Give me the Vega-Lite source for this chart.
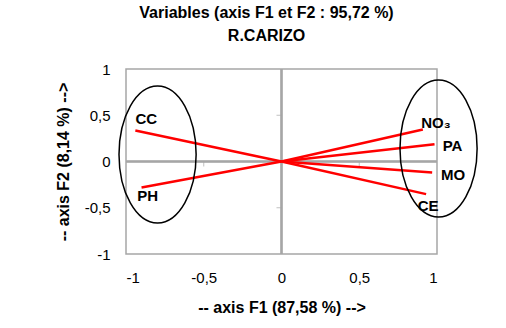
{
  "$schema": "https://vega.github.io/schema/vega-lite/v6.json",
  "width": 311,
  "height": 185,
  "autosize": {"type": "none"},
  "padding": {"left": 126, "top": 69, "right": 69, "bottom": 74},
  "background": "white",
  "title": {
    "text": ["Variables (axis F1 et F2 : 95,72 %)", "R.CARIZO"],
    "anchor": "middle",
    "frame": "group",
    "dx": -15,
    "offset": 18,
    "lineHeight": 23,
    "font": "Liberation Sans",
    "fontSize": 16,
    "fontWeight": "bold",
    "color": "black"
  },
  "datasets": {
    "vars": [
      {"var": "CC", "f1": -0.94, "f2": 0.335},
      {"var": "PH", "f1": -0.9, "f2": -0.28},
      {"var": "NO₃", "f1": 0.909, "f2": 0.346},
      {"var": "PA", "f1": 0.984, "f2": 0.187},
      {"var": "MO", "f1": 0.969, "f2": -0.119},
      {"var": "CE", "f1": 0.93, "f2": -0.353}
    ],
    "groups": [
      {"group": "left", "f1": -0.797, "f2": 0.076},
      {"group": "right", "f1": 1.01, "f2": 0.14}
    ],
    "xticks": [{"f1": -0.5, "f2": 0}, {"f1": 0.5, "f2": 0}],
    "yticks": [{"f1": 0, "f2": -0.5}, {"f1": 0, "f2": 0.5}]
  },
  "data": {"name": "vars"},
  "layer": [
    {
      "mark": {"type": "rule", "color": "#a6a6a6", "strokeWidth": 1.5},
      "encoding": {
        "x": {
          "datum": 0, "type": "quantitative",
          "scale": {"domain": [-1, 1], "nice": false},
          "axis": {
            "values": [-1, -0.5, 0, 0.5, 1],
            "labelExpr": "datum.value == 0 ? '0' : (datum.value < 0 ? '-' : '') + replace(toString(abs(datum.value)), '.', ',')",
            "title": "-- axis F1 (87,58 %) -->",
            "labelPadding": 16,
            "titlePadding": 14
          }
        }
      }
    },
    {
      "mark": {"type": "rule", "color": "#a6a6a6", "strokeWidth": 1.5},
      "encoding": {
        "y": {
          "datum": 0, "type": "quantitative",
          "scale": {"domain": [-1, 1], "nice": false},
          "axis": {
            "values": [-1, -0.5, 0, 0.5, 1],
            "labelExpr": "datum.value == 0 ? '0' : (datum.value < 0 ? '-' : '') + replace(toString(abs(datum.value)), '.', ',')",
            "title": "-- axis F2 (8,14 %) -->",
            "labelPadding": 16,
            "titlePadding": 13
          }
        }
      }
    },
    {
      "data": {"name": "xticks"},
      "mark": {"type": "tick", "orient": "vertical", "color": "#a6a6a6", "size": 5, "thickness": 1, "yOffset": 2.5},
      "encoding": {
        "x": {"field": "f1", "type": "quantitative"},
        "y": {"field": "f2", "type": "quantitative"}
      }
    },
    {
      "data": {"name": "yticks"},
      "mark": {"type": "tick", "orient": "horizontal", "color": "#a6a6a6", "size": 5, "thickness": 1, "xOffset": -2.5},
      "encoding": {
        "x": {"field": "f1", "type": "quantitative"},
        "y": {"field": "f2", "type": "quantitative"}
      }
    },
    {
      "mark": {"type": "rule", "color": "#ff0000", "strokeWidth": 2.5},
      "encoding": {
        "x": {"field": "f1", "type": "quantitative"},
        "y": {"field": "f2", "type": "quantitative"},
        "x2": {"datum": 0},
        "y2": {"datum": 0}
      }
    },
    {
      "data": {"name": "groups"},
      "mark": {
        "type": "point",
        "shape": "M0,-1C0.311,-1 0.563,-0.552 0.563,0C0.563,0.552 0.311,1 0,1C-0.311,1 -0.563,0.552 -0.563,0C-0.563,-0.552 -0.311,-1 0,-1Z",
        "size": 18769,
        "filled": false,
        "stroke": "black",
        "strokeWidth": 1.5,
        "opacity": 1,
        "clip": false
      },
      "encoding": {
        "x": {"field": "f1", "type": "quantitative"},
        "y": {"field": "f2", "type": "quantitative"}
      }
    },
    {
      "transform": [{"filter": "datum.var == 'CC'"}],
      "mark": {"type": "text", "dx": 11, "dy": -12, "font": "Liberation Sans", "fontSize": 15, "fontWeight": "bold", "color": "black"},
      "encoding": {"x": {"field": "f1", "type": "quantitative"}, "y": {"field": "f2", "type": "quantitative"}, "text": {"field": "var"}}
    },
    {
      "transform": [{"filter": "datum.var == 'PH'"}],
      "mark": {"type": "text", "dx": 6, "dy": 9, "font": "Liberation Sans", "fontSize": 15, "fontWeight": "bold", "color": "black"},
      "encoding": {"x": {"field": "f1", "type": "quantitative"}, "y": {"field": "f2", "type": "quantitative"}, "text": {"field": "var"}}
    },
    {
      "transform": [{"filter": "datum.var == 'NO₃'"}],
      "mark": {"type": "text", "dx": 13, "dy": -6, "font": "Liberation Sans", "fontSize": 15, "fontWeight": "bold", "color": "black"},
      "encoding": {"x": {"field": "f1", "type": "quantitative"}, "y": {"field": "f2", "type": "quantitative"}, "text": {"field": "var"}}
    },
    {
      "transform": [{"filter": "datum.var == 'PA'"}],
      "mark": {"type": "text", "dx": 18, "dy": 2, "font": "Liberation Sans", "fontSize": 15, "fontWeight": "bold", "color": "black"},
      "encoding": {"x": {"field": "f1", "type": "quantitative"}, "y": {"field": "f2", "type": "quantitative"}, "text": {"field": "var"}}
    },
    {
      "transform": [{"filter": "datum.var == 'MO'"}],
      "mark": {"type": "text", "dx": 21, "dy": 2, "font": "Liberation Sans", "fontSize": 15, "fontWeight": "bold", "color": "black"},
      "encoding": {"x": {"field": "f1", "type": "quantitative"}, "y": {"field": "f2", "type": "quantitative"}, "text": {"field": "var"}}
    },
    {
      "transform": [{"filter": "datum.var == 'CE'"}],
      "mark": {"type": "text", "dx": 2, "dy": 12, "font": "Liberation Sans", "fontSize": 15, "fontWeight": "bold", "color": "black"},
      "encoding": {"x": {"field": "f1", "type": "quantitative"}, "y": {"field": "f2", "type": "quantitative"}, "text": {"field": "var"}}
    }
  ],
  "config": {
    "view": {"stroke": "#a6a6a6", "strokeWidth": 1.5},
    "axis": {
      "domain": false,
      "ticks": false,
      "grid": false,
      "labelFont": "Liberation Sans",
      "labelFontSize": 15,
      "labelColor": "black",
      "titleFont": "Liberation Sans",
      "titleFontSize": 16,
      "titleFontWeight": "bold",
      "titleColor": "black"
    }
  }
}
